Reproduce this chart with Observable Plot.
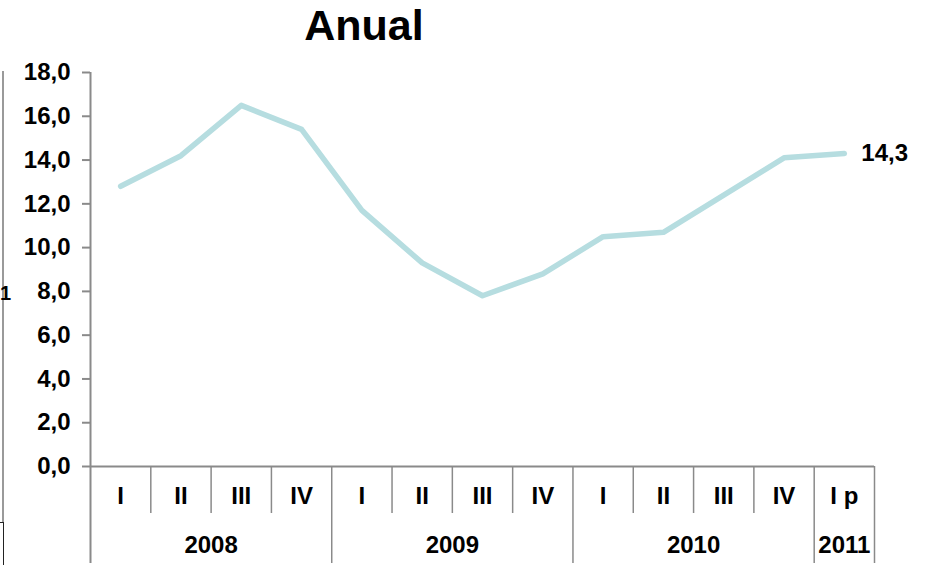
<!DOCTYPE html>
<html>
<head>
<meta charset="utf-8">
<script src="https://cdn.jsdelivr.net/npm/d3@7"></script>
<script src="https://cdn.jsdelivr.net/npm/@observablehq/plot@0.6"></script>
<style>
  html, body { margin: 0; padding: 0; background: #fff; }
  body { width: 935px; height: 565px; position: relative; overflow: hidden; font-family: "Liberation Sans", Arial, sans-serif; }
  #title { position: absolute; left: 0; width: 728px; top: 4px; text-align: center; font-size: 43px; line-height: 42px; font-weight: bold; color: #000; }
  #chart { position: absolute; left: 0; top: 56px; }
  #edge { position: absolute; left: 2px; top: 71px; height: 452px; border-left: 2px solid #9a9a9a; }
  #edge2 { position: absolute; left: -2px; top: 522px; width: 5px; height: 50px; border-top: 1px solid #222; border-right: 1px solid #222; }
  #one { position: absolute; left: 0px; top: 281px; font-size: 20px; font-weight: bold; line-height: 24px; }
</style>
</head>
<body>
<div id="title">Anual</div>
<div id="edge"></div>
<div id="edge2"></div>
<div id="one">1</div>
<div id="chart"></div>
<script>
// Data
const years = ["2008","2008","2008","2008","2009","2009","2009","2009","2010","2010","2010","2010","2011"];
const quarters = ["I","II","III","IV","I","II","III","IV","I","II","III","IV","I p"];
const values = [12.8, 14.2, 16.5, 15.4, 11.7, 9.3, 7.8, 8.8, 10.5, 10.7, 12.4, 14.1, 14.3];
const yTicks = [0, 2, 4, 6, 8, 10, 12, 14, 16, 18];
const lastLabel = "14,3";

const data = values.map((v, i) => ({i, value: v, year: years[i], q: quarters[i]}));

// Year groups
const yearNames = Array.from(new Set(years));
const yearGroups = yearNames.map(y => {
  const idx = data.filter(d => d.year === y).map(d => d.i);
  return {year: y, center: d3.mean(idx), start: d3.min(idx) - 0.5, end: d3.max(idx) + 0.5};
});
const yearBounds = Array.from(new Set(yearGroups.flatMap(g => [g.start, g.end])));
const quarterBounds = d3.range(1, data.length).map(i => i - 0.5).filter(b => !yearBounds.includes(b));
const firstBound = -0.5;
const innerYearBounds = yearBounds.filter(b => b !== firstBound);

const W = 935, H = 509, mT = 16, mB = 99, mL = 90, mR = 61;
const plotH = H - mT - mB;
const axisColor = "#8a8a8a";
const fmt = d => d.toFixed(1).replace(".", ",");

const chart = Plot.plot({
  width: W,
  height: H,
  marginTop: mT,
  marginBottom: mB,
  marginLeft: mL,
  marginRight: mR,
  style: {fontFamily: "'Liberation Sans', Arial, sans-serif", fontSize: "24px", fontWeight: "bold", color: "#000", background: "transparent", overflow: "visible"},
  x: {type: "linear", domain: [-0.5, data.length - 0.5], axis: null},
  y: {domain: [0, 18], axis: null},
  marks: [
    Plot.axisY({ticks: yTicks, tickFormat: fmt, tickSize: 8, tickPadding: 12, label: null, stroke: axisColor, strokeWidth: 2, fill: "#000", fontSize: 24, fontWeight: "bold"}),
    // y-axis line extending down through the category table
    Plot.ruleX([firstBound], {stroke: axisColor, strokeWidth: 2, insetBottom: -97}),
    // x-axis line
    Plot.ruleY([0], {x1: -0.5, x2: data.length - 0.5, stroke: axisColor, strokeWidth: 2}),
    // quarter separators
    Plot.ruleX(quarterBounds, {stroke: axisColor, strokeWidth: 1.5, insetTop: plotH, insetBottom: -47}),
    // year separators
    Plot.ruleX(innerYearBounds, {stroke: axisColor, strokeWidth: 1.5, insetTop: plotH, insetBottom: -97}),
    // quarter labels
    Plot.text(data, {x: "i", text: "q", frameAnchor: "bottom", dy: 37, fill: "#000", fontSize: 24, fontWeight: "bold"}),
    // year labels
    Plot.text(yearGroups, {x: "center", text: "year", frameAnchor: "bottom", dy: 86, fill: "#000", fontSize: 24, fontWeight: "bold"}),
    // the line
    Plot.line(data, {x: "i", y: "value", stroke: "#b6dde0", strokeWidth: 5.5, strokeLinejoin: "round", strokeLinecap: "round"}),
    // last label
    Plot.text([data[data.length - 1]], {x: "i", y: "value", text: () => lastLabel, dx: 17, textAnchor: "start", fill: "#000", fontSize: 24, fontWeight: "bold"})
  ]
});
document.getElementById("chart").appendChild(chart);
</script>
</body>
</html>
